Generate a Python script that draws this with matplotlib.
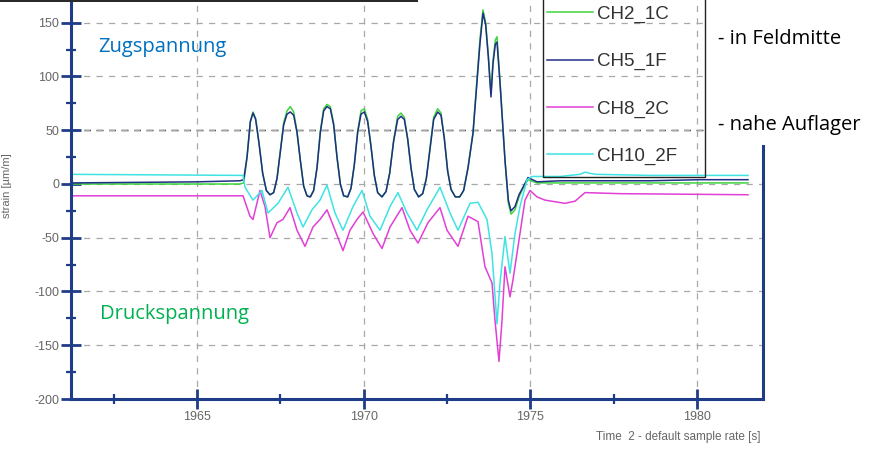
import matplotlib
matplotlib.use("Agg")
import matplotlib.pyplot as plt
from matplotlib.patches import Rectangle
from matplotlib.lines import Line2D

plt.rcParams['font.family'] = ['Liberation Sans', 'DejaVu Sans']
plt.rcParams['axes.unicode_minus'] = False

# ---------------- data ----------------
t_ch5 = [1961.22, 1965.00, 1966.29, 1966.40, 1966.50, 1966.60, 1966.68, 1966.76, 1966.86, 1966.97,
         1967.08, 1967.19, 1967.30, 1967.40, 1967.50, 1967.60, 1967.70, 1967.80, 1967.90, 1968.00,
         1968.10, 1968.20, 1968.30, 1968.40, 1968.50, 1968.60, 1968.70, 1968.80, 1968.90, 1969.00,
         1969.10, 1969.20, 1969.30, 1969.40, 1969.52, 1969.62, 1969.72, 1969.82, 1969.92, 1970.02,
         1970.12, 1970.22, 1970.32, 1970.42, 1970.55, 1970.67, 1970.78, 1970.90, 1971.02, 1971.12,
         1971.22, 1971.32, 1971.42, 1971.52, 1971.65, 1971.77, 1971.88, 1972.00, 1972.10, 1972.22,
         1972.32, 1972.42, 1972.52, 1972.62, 1972.75, 1972.88, 1973.00, 1973.13, 1973.28, 1973.40,
         1973.49, 1973.58, 1973.66, 1973.74, 1973.82, 1973.88, 1973.95, 1974.00, 1974.09, 1974.24,
         1974.34, 1974.42, 1974.54, 1974.66, 1974.78, 1974.93, 1975.20, 1975.89, 1977.09, 1978.59,
         1980.09, 1981.53]
ch5_1f = [1, 2, 3, 4, 25, 58, 66, 60, 38, 10,
          -6, -10, -8, 5, 30, 55, 65, 67, 64, 48,
          22, -2, -11, -12, -6, 15, 48, 68, 72, 70,
          55, 25, 0, -11, -12, -4, 18, 48, 65, 67,
          58, 35, 8, -8, -12, -7, 10, 40, 60, 63,
          60, 42, 15, -5, -12, -9, 5, 35, 60, 67,
          64, 42, 12, -5, -12, -12, -6, 15, 47, 95,
          131, 159, 148, 118, 81, 112, 130, 132, 94, 22,
          -15, -25, -21, -10, -3, 6, 2, 3, 3, 3,
          4, 4]

t_ch2 = list(t_ch5)
ch2_1c = [0, 0, 0, 1, 24, 58, 67, 61, 38, 10,
          -6, -10, -8, 5, 31, 57, 68, 72, 67, 49,
          22, -2, -11, -12, -6, 15, 49, 70, 74, 72,
          56, 25, 0, -11, -12, -4, 18, 49, 68, 70,
          60, 35, 8, -8, -12, -7, 10, 41, 63, 66,
          62, 42, 15, -5, -12, -9, 5, 36, 62, 70,
          66, 43, 12, -5, -12, -12, -6, 15, 48, 98,
          135, 162, 150, 120, 84, 115, 134, 137, 96, 22,
          -18, -28, -24, -12, -4, 4, 1, 1, 1, 1,
          1, 1]

t_ch10 = [1961.22, 1966.29, 1966.38, 1966.44, 1966.68, 1966.95, 1967.13, 1967.43, 1967.73, 1968.00,
          1968.18, 1968.45, 1968.69, 1968.90, 1969.14, 1969.38, 1969.68, 1969.95, 1970.19, 1970.49,
          1970.79, 1971.03, 1971.30, 1971.60, 1971.90, 1972.20, 1972.29, 1972.59, 1972.83, 1973.19,
          1973.43, 1973.70, 1973.85, 1974.00, 1974.09, 1974.24, 1974.39, 1974.54, 1974.69, 1974.90,
          1975.05, 1975.89, 1976.49, 1976.64, 1976.94, 1978.59, 1981.53]
ch10_2f = [9, 8, 8, -3, -15, -6, -27, -18, -3, -27,
           -40, -24, -15, -1, -27, -43, -21, -6, -30, -43,
           -21, -8, -27, -43, -24, -8, -3, -27, -43, -18,
           -17, -33, -65, -130, -92, -49, -83, -46, -21, 4,
           7, 7, 9, 11, 9, 8, 8]

t_ch8 = [1961.22, 1966.38, 1966.59, 1966.68, 1966.89, 1967.04, 1967.19, 1967.40, 1967.58, 1967.79,
         1968.00, 1968.24, 1968.48, 1968.69, 1968.90, 1969.14, 1969.38, 1969.59, 1969.80, 1969.98,
         1970.28, 1970.55, 1970.79, 1971.15, 1971.39, 1971.63, 1971.93, 1972.29, 1972.50, 1972.83,
         1973.13, 1973.43, 1973.64, 1973.85, 1973.94, 1974.06, 1974.15, 1974.24, 1974.39, 1974.48,
         1974.69, 1974.84, 1974.99, 1975.20, 1975.44, 1976.04, 1976.34, 1976.64, 1977.69, 1981.53]
ch8_2c = [-11, -11, -30, -33, -6, -21, -50, -36, -33, -22,
          -43, -58, -40, -33, -24, -43, -62, -43, -33, -26,
          -46, -60, -40, -22, -43, -55, -36, -22, -43, -58,
          -30, -35, -77, -92, -127, -165, -127, -77, -105, -89,
          -46, -15, -6, -12, -15, -18, -16, -8, -9, -10]

series = [
    ("CH2_1C", t_ch2, ch2_1c, "#3fd43f"),
    ("CH5_1F", t_ch5, ch5_1f, "#1f2f86"),
    ("CH8_2C", t_ch8, ch8_2c, "#e23fd6"),
    ("CH10_2F", t_ch10, ch10_2f, "#3fe3e3"),
]

y_ticks = [-200, -150, -100, -50, 0, 50, 100, 150]
x_ticks = [1965, 1970, 1975, 1980]

# ---------------- figure ----------------
W, H = 873, 451
fig = plt.figure(figsize=(W / 100, H / 100), dpi=100)
fig.patch.set_facecolor("white")

def fx(px):
    return px / W

def fy(py):
    return 1 - py / H

ax = fig.add_axes([fx(71), fy(399), (763 - 71) / W, (399 + 31) / H])
ax.set_xlim(1961.22, 1981.98)
ax.set_ylim(-200, 200)

navy = "#1f3c88"
for s in ax.spines.values():
    s.set_color(navy)
    s.set_linewidth(2.2)

ax.set_xticks(x_ticks)
ax.set_xticks([1962.5, 1967.5, 1972.5, 1977.5], minor=True)
ax.set_yticks(y_ticks)
ax.set_yticks([-175, -125, -75, -25, 25, 75, 125, 175], minor=True)
ax.tick_params(which="major", direction="inout", length=14, width=2.0, color=navy,
               labelsize=9, labelcolor="#666666", pad=1.5)
ax.tick_params(which="minor", direction="inout", length=7, width=1.6, color=navy)
ax.tick_params(top=False, right=False, which="both")

ax.grid(True, which="major", color="#a8a8a8", linestyle=(0, (5, 5)), linewidth=0.9)
ax.axhline(50, xmin=0, xmax=(705 - 71) / (763 - 71), color="#222222",
           linestyle=(0, (5, 4)), linewidth=1.0, zorder=1.5)

for name, t, v, c in series:
    ax.plot(t, v, color=c, linewidth=1.1, label=name, zorder=2)

ax.set_ylabel("strain [µm/m]", fontsize=8, color="#666666")
ax.yaxis.set_label_coords(-(71 - 12) / 692, (399 - 186) / 430)
ax.set_xlabel("Time  2 - default sample rate [s]", fontsize=8.5, color="#666666", ha="right")
ax.xaxis.set_label_coords(1.0 - 3 / 692, -(431 - 399) / 430)

# legend
leg_handles = [Line2D([0], [0], color=c, lw=1.1) for _, _, _, c in series]
leg = fig.legend(leg_handles, [s[0] for s in series], loc="upper left",
                 bbox_to_anchor=(fx(543), fy(2)), frameon=False,
                 prop={"size": 13.5}, handlelength=2.45, handletextpad=0.25,
                 labelspacing=1.6, borderpad=0.2, borderaxespad=0)
for txt in leg.get_texts():
    txt.set_color("#333333")
fig.patches.append(Rectangle((fx(543), fy(177)), fx(705) - fx(543), 1.2, transform=fig.transFigure,
                             fill=False, edgecolor="#222222", linewidth=1.0, zorder=5))

# white cover at right top
fig.patches.append(Rectangle((fx(707), fy(145)), 1, 1, transform=fig.transFigure,
                             facecolor="white", edgecolor="none", zorder=6))
# dark strip at top
fig.patches.append(Rectangle((0, fy(1.5)), fx(418), 0.1, transform=fig.transFigure,
                             facecolor="#2a2a2a", edgecolor="none", zorder=7))

tf = ["Open Sans", "DejaVu Sans"]
fig.text(fx(98), fy(52), "Zugspannung", color="#0070C0", fontsize=14.5, family=tf, va="baseline", zorder=10)
fig.text(fx(100), fy(319), "Druckspannung", color="#00B050", fontsize=14.5, family=tf, va="baseline", zorder=10)
fig.text(fx(718), fy(44), "- in Feldmitte", color="black", fontsize=14.5, family=tf, va="baseline", zorder=10)
fig.text(fx(718), fy(130), "- nahe Auflager", color="black", fontsize=14.5, family=tf, va="baseline", zorder=10)

fig.savefig("out.png", dpi=100)
